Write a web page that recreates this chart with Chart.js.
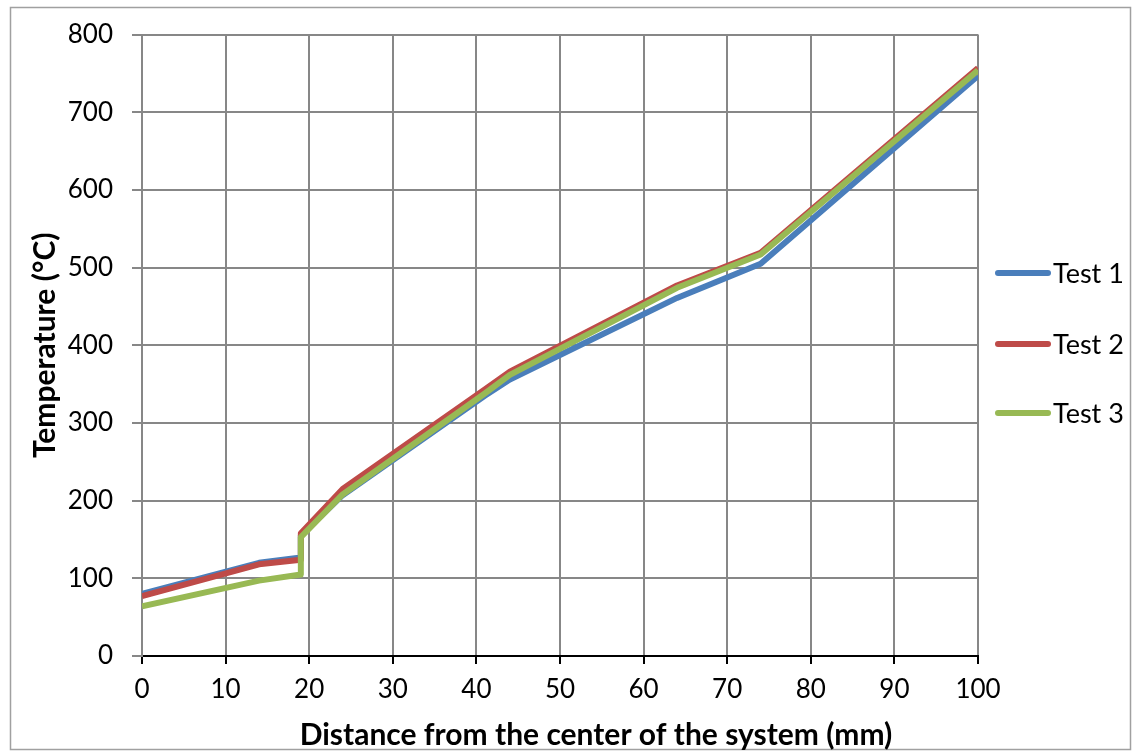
<!DOCTYPE html>
<html>
<head>
<meta charset="utf-8">
<script src="https://cdn.jsdelivr.net/npm/chart.js@4.4.1/dist/chart.umd.min.js"></script>
<style>
  html, body { margin: 0; padding: 0; background: #fff; }
  #wrap { width: 1136px; height: 753px; position: relative; }
</style>
</head>
<body>
<div id="wrap"><canvas id="myChart1"></canvas></div>
<script>
// distance from the center (mm) and temperatures
const distance = [0, 14, 19, 19, 24, 41, 44, 64, 74, 100];
const test1 = [80, 120, 127, 155, 207, 335, 356, 461, 505, 747];
const test2 = [77, 118, 124, 158, 215, 343, 366, 477, 519, 757];
const test3 = [64, 97, 105, 153, 208, 338, 362, 474, 517, 754];

const seriesNames = ['Test 1', 'Test 2', 'Test 3'];
const seriesColors = ['#4a7ebb', '#be4b48', '#98b954'];
const xTitle = 'Distance from the center of the system (mm)';

const font = 'Lato';

function toPoints(values) {
    return distance.map((d, i) => ({ x: d, y: values[i] }));
}

// grey frame round the whole chart
const frame = {
    id: 'frame',
    beforeDraw(chart) {
        const c = chart.ctx;
        c.save();
        c.fillStyle = '#fff';
        c.fillRect(0, 0, chart.width, chart.height);
        c.strokeStyle = '#a0a0a0';
        c.lineWidth = 1.5;
        c.strokeRect(10.5, 7.5, 1120, 742);
        c.restore();
    }
};

// legend on the right, drawn like the excel one (line + name), and the x title
// which sits a bit right of the plot centre in the original
const sideLegend = {
    id: 'sideLegend',
    afterDraw(chart) {
        const c = chart.ctx;
        const x0 = chart.chartArea.right + 17;
        const rows = [273, 344, 413];
        c.save();
        chart.data.datasets.forEach((ds, i) => {
            c.strokeStyle = ds.borderColor;
            c.lineWidth = 6;
            c.lineCap = 'round';
            c.beginPath();
            c.moveTo(x0 + 3, rows[i]);
            c.lineTo(x0 + 53, rows[i]);
            c.stroke();
            c.fillStyle = '#000';
            c.font = '27px ' + font;
            c.textBaseline = 'middle';
            c.fillText(ds.label, x0 + 58, rows[i] + 1);
        });
        c.font = 'bold 30px ' + font;
        c.textAlign = 'center';
        c.textBaseline = 'middle';
        c.fillText(xTitle, 596, 735);
        c.restore();
    }
};

const ctx = document.getElementById('myChart1').getContext('2d');
const myChart1 = new Chart(ctx, {
    type: 'line',
    data: {
        datasets: [
            { label: seriesNames[0], data: toPoints(test1), borderColor: seriesColors[0], backgroundColor: seriesColors[0], borderWidth: 6, order: 3 },
            { label: seriesNames[1], data: toPoints(test2), borderColor: seriesColors[1], backgroundColor: seriesColors[1], borderWidth: 6, order: 2 },
            { label: seriesNames[2], data: toPoints(test3), borderColor: seriesColors[2], backgroundColor: seriesColors[2], borderWidth: 6, order: 1 }
        ]
    },
    options: {
        responsive: true,
        maintainAspectRatio: false,
        animation: false,
        elements: {
            line: { tension: 0, borderJoinStyle: 'round' },
            point: { radius: 0 }
        },
        layout: { padding: { left: 20, top: 31, right: 158, bottom: 0 } },
        scales: {
            x: {
                type: 'linear',
                min: 0,
                max: 100,
                ticks: { stepSize: 10, color: '#000', font: { family: font, size: 26 }, padding: 10 },
                grid: { color: '#878787', lineWidth: 2, tickColor: '#000', tickLength: 8 },
                border: { color: '#000', width: 2 },
                afterFit: (scale) => { scale.height = 97; }
            },
            y: {
                min: 0,
                max: 800,
                ticks: { stepSize: 100, color: '#000', font: { family: font, size: 26 }, padding: 19 },
                grid: { color: '#878787', lineWidth: 2, tickColor: '#878787', tickLength: 10 },
                border: { color: '#878787', width: 2 },
                title: {
                    display: true,
                    text: 'Temperature (°C)',
                    color: '#000',
                    font: { family: font, size: 30, weight: 'bold' },
                    padding: { top: 7, bottom: 0 }
                },
                afterFit: (scale) => { scale.width = 122; }
            }
        },
        plugins: {
            legend: { display: false },
            tooltip: { enabled: false }
        }
    },
    plugins: [frame, sideLegend]
});
</script>
</body>
</html>
